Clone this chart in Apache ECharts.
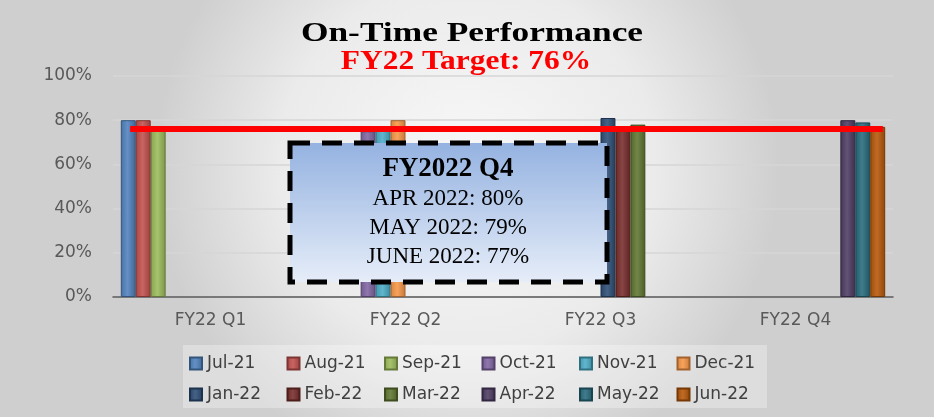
<!DOCTYPE html>
<html>
<head>
<meta charset="utf-8">
<script src="https://cdn.jsdelivr.net/npm/echarts@6/dist/echarts.min.js"></script>
<style>
  html, body { margin: 0; padding: 0; }
  #chart { width: 934px; height: 417px; }
</style>
</head>
<body>
<div id="chart"></div>
<script>
// 季度分类
var quarters = ['FY22 Q1', 'FY22 Q2', 'FY22 Q3', 'FY22 Q4'];
// 月份（每季度三个月）
var months = ['Jul-21', 'Aug-21', 'Sep-21', 'Oct-21', 'Nov-21', 'Dec-21',
              'Jan-22', 'Feb-22', 'Mar-22', 'Apr-22', 'May-22', 'Jun-22'];
// 每月准时率 %
var monthValues = [80, 80, 77, 75, 77, 80, 81, 77, 78, 80, 79, 77];
// 月份所属季度
var monthQuarter = [0, 0, 0, 1, 1, 1, 2, 2, 2, 3, 3, 3];
// 目标值
var target = 76;
// 纵轴刻度
var yTicks = [0, 20, 40, 60, 80, 100];

var colors = ['#4f81bd', '#c0504d', '#9bbb59', '#8064a2', '#4bacc6', '#f79646',
              '#2c4d75', '#772c2a', '#5f7530', '#4d3b62', '#276a7c', '#b65708'];

function mix(hex, t, to) {
  var c = parseInt(hex.slice(1), 16);
  var r = c >> 16, g = (c >> 8) & 255, b = c & 255;
  var tr = to === 'w' ? 255 : 0;
  r = Math.round(r + (tr - r) * t);
  g = Math.round(g + (tr - g) * t);
  b = Math.round(b + (tr - b) * t);
  return 'rgb(' + r + ',' + g + ',' + b + ')';
}

var series = months.map(function (m, i) {
  var data = quarters.map(function (q, qi) {
    return qi === monthQuarter[i] ? monthValues[i] : null;
  });
  return {
    name: m,
    type: 'bar',
    data: data,
    barGap: '0%',
    barCategoryGap: '8%',
    itemStyle: {
      color: new echarts.graphic.LinearGradient(0, 0, 1, 0, [
        { offset: 0, color: mix(colors[i], 0.12, 'b') },
        { offset: 0.45, color: mix(colors[i], 0.12, 'w') },
        { offset: 1, color: mix(colors[i], 0.2, 'b') }
      ]),
      borderColor: mix(colors[i], 0.35, 'b'),
      borderWidth: 1
    }
  };
});

// 目标线
series.push({
  name: 'Target',
  type: 'line',
  xAxisIndex: 1,
  data: [[2.2, target], [98.7, target]],
  symbol: 'none',
  lineStyle: { color: '#ff0000', width: 6 },
  silent: true,
  z: 5
});

// 图例：两行六列，每项单独定位以对齐列
var legends = months.map(function (m, i) {
  return {
    data: [m],
    left: 189 + (i % 6) * 97.5,
    top: i < 6 ? 355 : 386,
    itemWidth: 12,
    itemHeight: 12,
    icon: 'rect',
    padding: 0,
    textStyle: { color: '#404040', fontSize: 17, fontFamily: 'DejaVu Sans' }
  };
});

var myChart = echarts.init(document.getElementById('chart'));
myChart.setOption({
  backgroundColor: new echarts.graphic.RadialGradient(0.5, 0.4, 0.75, [
    { offset: 0, color: '#f8f8f8' },
    { offset: 0.6, color: '#ebebeb' },
    { offset: 1, color: '#cfcfcf' }
  ]),
  animation: false,
  legend: legends,
  grid: { left: 113, right: 41, top: 76, bottom: 120 },
  xAxis: [
    {
      type: 'category',
      data: quarters,
      axisLine: { lineStyle: { color: '#595959', width: 1.5 } },
      axisTick: { length: 4, lineStyle: { color: '#595959' } },
      axisLabel: { color: '#595959', fontSize: 17, fontFamily: 'DejaVu Sans', margin: 15 }
    },
    { type: 'value', min: 0, max: 100, show: false }
  ],
  yAxis: {
    type: 'value',
    min: yTicks[0],
    max: yTicks[yTicks.length - 1],
    interval: 20,
    axisLine: { show: false },
    axisTick: { show: false },
    splitLine: { lineStyle: { color: '#d6d6d6', width: 1.5 } },
    axisLabel: {
      color: '#595959', fontSize: 17, fontFamily: 'DejaVu Sans', margin: 21,
      formatter: function (v) { return v + '%'; }
    }
  },
  graphic: [
    {
      type: 'text', z: 10, silent: true, x: 472, y: 34, scaleX: 1.31,
      style: {
        text: 'On-Time Performance', x: 0, y: 0, textAlign: 'center', textVerticalAlign: 'middle',
        font: 'bold 27px "Liberation Serif"', fill: '#000'
      }
    },
    {
      type: 'text', z: 10, silent: true, x: 466, y: 62, scaleX: 1.165,
      style: {
        text: 'FY22 Target: 76%', x: 0, y: 0, textAlign: 'center', textVerticalAlign: 'middle',
        font: 'bold 27px "Liberation Serif"', fill: '#ff0000'
      }
    },
    {
      type: 'rect', z: -1, silent: true,
      shape: { x: 183, y: 345, width: 584, height: 63 },
      style: { fill: 'rgba(255,255,255,0.3)' }
    },
    {
      type: 'rect', z: 100, silent: true,
      shape: { x: 290, y: 143, width: 317, height: 139 },
      style: {
        fill: new echarts.graphic.LinearGradient(0, 0, 0, 1, [
          { offset: 0, color: '#93b1e0' },
          { offset: 1, color: '#e7eef9' }
        ]),
        stroke: '#000', lineWidth: 5, lineDash: [20, 12]
      }
    },
    {
      type: 'text', z: 101, silent: true,
      style: {
        text: 'FY2022 Q4', x: 448, y: 169, textAlign: 'center', textVerticalAlign: 'middle',
        font: 'bold 27px "Liberation Serif"', fill: '#000'
      }
    },
    {
      type: 'text', z: 101, silent: true,
      style: {
        text: 'APR 2022: 80%', x: 448, y: 199, textAlign: 'center', textVerticalAlign: 'middle',
        font: '23px "Liberation Serif"', fill: '#000'
      }
    },
    {
      type: 'text', z: 101, silent: true,
      style: {
        text: 'MAY 2022: 79%', x: 448, y: 228, textAlign: 'center', textVerticalAlign: 'middle',
        font: '23px "Liberation Serif"', fill: '#000'
      }
    },
    {
      type: 'text', z: 101, silent: true,
      style: {
        text: 'JUNE 2022: 77%', x: 448, y: 257, textAlign: 'center', textVerticalAlign: 'middle',
        font: '23px "Liberation Serif"', fill: '#000'
      }
    }
  ],
  series: series
});
</script>
</body>
</html>
